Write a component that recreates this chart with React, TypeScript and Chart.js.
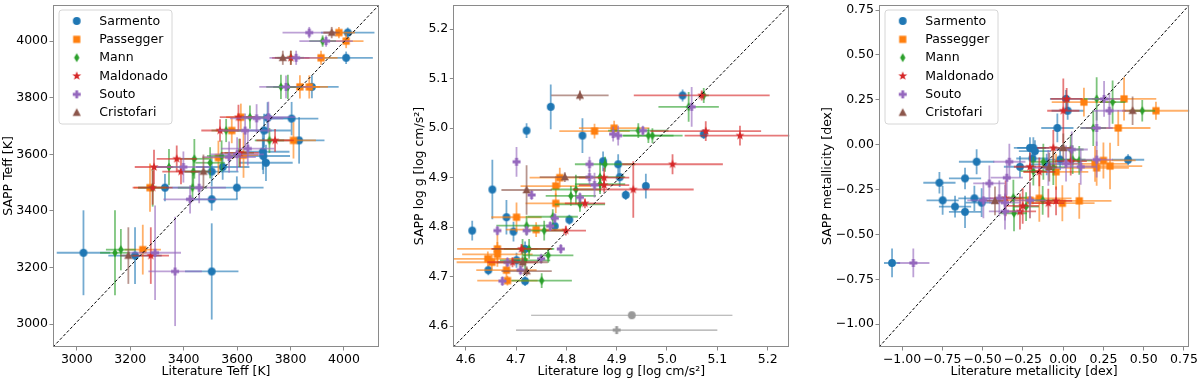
import React, { useEffect, useRef } from 'react';
import { Chart, registerables } from 'chart.js';
Chart.register(...registerables);

type Pt = [number, number, number, number]; // [literature, SAPP, xerr, yerr]

const SERIES_NAMES = ['Sarmento', 'Passegger', 'Mann', 'Maldonado', 'Souto', 'Cristofari'];
const SERIES_COLORS = ['#1f77b4', '#ff7f0e', '#2ca02c', '#d62728', '#9467bd', '#8c564b'];
const SERIES_MARKERS = ['circle', 'square', 'thinDiamond', 'star', 'plus', 'triangle'];

// ---------------- Panel 1: Teff ----------------
const TEFF_TICKS = [3000, 3200, 3400, 3600, 3800, 4000];
const TEFF_SARMENTO: Pt[] = [
  [4014, 4030, 100, 18], [4008, 3941, 100, 22], [3880, 3838, 100, 40], [3804, 3726, 100, 59],
  [3714, 3729, 100, 55], [3832, 3649, 95, 82], [3701, 3684, 100, 59], [3696, 3609, 100, 64],
  [3698, 3594, 100, 64], [3708, 3570, 100, 64], [3599, 3482, 100, 40], [3505, 3539, 100, 53],
  [3546, 3555, 100, 45], [3505, 3441, 97, 40], [3330, 3482, 100, 48], [3025, 3252, 100, 150],
  [3218, 3242, 100, 100], [3505, 3186, 100, 170],
];
const TEFF_PASSEGGER: Pt[] = [
  [3981, 4030, 60, 20], [4008, 4000, 65, 25], [3914, 3941, 62, 25], [3835, 3838, 75, 41],
  [3870, 3838, 70, 41], [3614, 3731, 55, 48], [3811, 3649, 84, 64], [3580, 3684, 60, 45],
  [3530, 3588, 60, 60], [3624, 3597, 55, 80], [3274, 3482, 60, 85], [3247, 3263, 68, 88],
];
const TEFF_MANN: Pt[] = [
  [3920, 4000, 50, 20], [3801, 3941, 50, 25], [3764, 3838, 55, 43], [3790, 3838, 55, 43],
  [3648, 3731, 55, 41], [3559, 3684, 55, 41], [3721, 3649, 55, 44], [3440, 3584, 55, 70],
  [3345, 3555, 55, 64], [3436, 3539, 55, 50], [3499, 3570, 55, 55], [3433, 3482, 55, 47],
  [3284, 3482, 55, 67], [3608, 3605, 55, 50], [3542, 3594, 55, 55], [3143, 3252, 56, 150],
  [3165, 3263, 56, 73],
];
const TEFF_MALDONADO: Pt[] = [
  [3801, 3941, 70, 25], [3605, 3731, 70, 44], [3536, 3684, 70, 40], [3742, 3649, 70, 40],
  [3374, 3584, 75, 47], [3289, 3555, 72, 61], [3390, 3539, 70, 45], [3284, 3482, 75, 60],
  [3277, 3242, 68, 100], [3611, 3605, 70, 50],
];
const TEFF_SOUTO: Pt[] = [
  [3870, 4030, 100, 20], [3933, 4000, 100, 20], [3821, 3941, 100, 25], [3783, 3838, 100, 40],
  [3717, 3731, 100, 55], [3673, 3727, 100, 50], [3630, 3684, 100, 60], [3399, 3555, 100, 55],
  [3458, 3482, 100, 55], [3424, 3441, 100, 50], [3368, 3186, 100, 193], [3293, 3252, 97, 167],
  [3600, 3600, 100, 60], [3570, 3590, 100, 55], [3640, 3620, 100, 60],
];
const TEFF_CRISTOFARI: Pt[] = [
  [3954, 4030, 30, 20], [3771, 3941, 30, 25], [3474, 3539, 30, 60], [3193, 3242, 30, 100],
];

// ---------------- Panel 2: log g ----------------
const LOGG_TICKS = [4.6, 4.7, 4.8, 4.9, 5.0, 5.1, 5.2];
const LOGG_SARMENTO: Pt[] = [
  [4.613, 4.793, 0, 0.02], [4.653, 4.876, 0, 0.06], [4.681, 4.82, 0, 0.035], [4.695, 4.791, 0, 0.02],
  [4.721, 4.995, 0, 0.015], [4.769, 5.043, 0, 0.045], [4.832, 4.985, 0, 0.035], [4.873, 4.933, 0, 0.02],
  [4.903, 4.927, 0, 0.02], [4.906, 4.901, 0, 0.02], [4.918, 4.865, 0, 0.01], [4.958, 4.883, 0, 0.025],
  [5.031, 5.066, 0, 0.012], [5.073, 4.988, 0, 0.01], [4.645, 4.713, 0, 0.01], [4.701, 4.733, 0, 0.015],
  [4.718, 4.691, 0, 0.01], [4.718, 4.756, 0, 0.015], [4.777, 4.802, 0, 0.01], [4.806, 4.815, 0, 0.01],
];
const LOGG_PASSEGGER: Pt[] = [
  [4.644, 4.736, 0.08, 0.015], [4.663, 4.756, 0.08, 0.03], [4.663, 4.745, 0.07, 0.025], [4.652, 4.729, 0.07, 0.015],
  [4.681, 4.713, 0.06, 0.015], [4.683, 4.692, 0.06, 0.01], [4.701, 4.82, 0.05, 0.03], [4.74, 4.795, 0.06, 0.015],
  [4.779, 4.883, 0.07, 0.02], [4.779, 4.848, 0.06, 0.02], [4.787, 4.9, 0.06, 0.02], [4.856, 4.994, 0.07, 0.015],
  [4.895, 5.0, 0.07, 0.015],
];
const LOGG_MANN: Pt[] = [
  [4.721, 4.803, 0.06, 0.02], [4.713, 4.756, 0.06, 0.02], [4.726, 4.756, 0.05, 0.02], [4.718, 4.733, 0.05, 0.02],
  [4.751, 4.692, 0.06, 0.015], [4.764, 4.743, 0.05, 0.015], [4.756, 4.793, 0.04, 0.02], [4.773, 4.821, 0.05, 0.015],
  [4.819, 4.876, 0.05, 0.03], [4.809, 4.863, 0.05, 0.02], [4.827, 4.846, 0.05, 0.015], [4.867, 4.901, 0.05, 0.03],
  [4.867, 4.887, 0.05, 0.02], [4.877, 4.927, 0.06, 0.015], [4.943, 4.995, 0.06, 0.015], [4.963, 4.985, 0.05, 0.015],
  [4.971, 4.985, 0.06, 0.015], [5.043, 5.043, 0.06, 0.03], [5.073, 5.066, 0.01, 0.015],
];
const LOGG_MALDONADO: Pt[] = [
  [4.711, 4.756, 0.06, 0.01], [4.693, 4.729, 0.05, 0.01], [4.799, 4.793, 0.04, 0.01], [4.837, 4.848, 0.04, 0.01],
  [4.875, 4.9, 0.05, 0.02], [4.875, 4.885, 0.05, 0.015], [4.933, 4.876, 0.12, 0.057], [5.011, 4.927, 0.1, 0.02],
  [5.069, 5.066, 0.135, 0.01], [5.077, 4.994, 0.11, 0.02], [5.145, 4.985, 0.11, 0.02],
];
const LOGG_SOUTO: Pt[] = [
  [4.701, 4.932, 0, 0.03], [4.731, 4.865, 0, 0.01], [4.663, 4.793, 0, 0.01], [4.673, 4.691, 0, 0.01],
  [4.683, 4.729, 0, 0.01], [4.709, 4.713, 0, 0.01], [4.721, 4.793, 0, 0.01], [4.75, 4.736, 0, 0.01],
  [4.789, 4.756, 0, 0.01], [4.777, 4.818, 0, 0.01], [4.768, 4.802, 0, 0.01], [4.827, 4.86, 0, 0.01],
  [4.846, 4.927, 0, 0.015], [4.846, 4.901, 0, 0.015], [4.856, 4.885, 0, 0.025], [4.893, 4.988, 0, 0.015],
  [4.903, 4.985, 0, 0.02], [4.952, 4.995, 0, 0.01], [5.049, 5.043, 0, 0.04],
];
const LOGG_CRISTOFARI: Pt[] = [
  [4.827, 5.066, 0.057, 0.01], [4.797, 4.901, 0.05, 0.01], [4.721, 4.875, 0.05, 0.05],
  [4.721, 4.711, 0.05, 0.01], [4.713, 4.729, 0.05, 0.01],
];
const LOGG_TYPICAL_SARMENTO: Pt[] = [[4.93, 4.622, 0.2, 0]];
const LOGG_TYPICAL_SOUTO: Pt[] = [[4.9, 4.592, 0.2, 0]];

// ---------------- Panel 3: metallicity ----------------
const FEH_TICKS = [-1.0, -0.75, -0.5, -0.25, 0.0, 0.25, 0.5, 0.75];
const FEH_SARMENTO: Pt[] = [
  [-1.062, -0.659, 0.05, 0.08], [-0.768, -0.212, 0.1, 0.06], [-0.748, -0.31, 0.1, 0.08], [-0.671, -0.345, 0.1, 0.06],
  [-0.609, -0.188, 0.1, 0.06], [-0.609, -0.374, 0.1, 0.09], [-0.551, -0.299, 0.1, 0.07], [-0.537, -0.095, 0.11, 0.07],
  [-0.506, -0.323, 0.1, 0.08], [-0.268, -0.123, 0.1, 0.06], [-0.206, -0.018, 0.1, 0.06], [-0.191, -0.077, 0.1, 0.06],
  [-0.185, -0.018, 0.1, 0.06], [-0.175, -0.036, 0.1, 0.06], [-0.036, 0.093, 0.1, 0.08], [-0.019, -0.083, 0.1, 0.06],
  [0.018, 0.255, 0.1, 0.05], [0.028, 0.189, 0.1, 0.05], [0.403, -0.084, 0.1, 0.03], [-0.102, -0.11, 0.1, 0.06],
];
const FEH_PASSEGGER: Pt[] = [
  [0.129, 0.237, 0.2, 0.08], [0.342, 0.093, 0.2, 0.1], [0.378, 0.255, 0.2, 0.12], [0.576, 0.189, 0.21, 0.05],
  [0.198, -0.107, 0.2, 0.1], [0.208, -0.129, 0.2, 0.1], [0.25, -0.088, 0.2, 0.1], [0.291, -0.119, 0.2, 0.13],
  [-0.044, -0.151, 0.2, 0.1], [-0.005, -0.326, 0.2, 0.1], [0.1, -0.313, 0.2, 0.1], [-0.148, -0.299, 0.2, 0.13],
  [-0.206, -0.31, 0.2, 0.1],
];
const FEH_MANN: Pt[] = [
  [0.208, 0.255, 0.08, 0.12], [0.307, 0.237, 0.08, 0.12], [0.491, 0.189, 0.08, 0.06], [0.187, 0.093, 0.08, 0.1],
  [-0.123, -0.095, 0.08, 0.1], [-0.185, -0.147, 0.08, 0.08], [-0.061, -0.125, 0.08, 0.1], [0.047, -0.027, 0.08, 0.08],
  [0.059, -0.083, 0.08, 0.08], [0.1, -0.088, 0.08, 0.08], [-0.309, -0.295, 0.08, 0.1], [-0.305, -0.382, 0.08, 0.1],
  [-0.23, -0.345, 0.08, 0.08], [-0.127, -0.31, 0.08, 0.08],
];
const FEH_MALDONADO: Pt[] = [
  [0.001, 0.189, 0.1, 0.18], [-0.061, -0.018, 0.1, 0.1], [-0.206, -0.123, 0.1, 0.08], [-0.148, -0.151, 0.1, 0.08],
  [0.047, -0.092, 0.1, 0.08], [-0.357, -0.299, 0.1, 0.1], [-0.268, -0.372, 0.1, 0.1], [-0.251, -0.341, 0.1, 0.1],
  [-0.092, -0.326, 0.1, 0.08], [-0.044, -0.313, 0.1, 0.08], [0.022, 0.255, 0.1, 0.06],
];
const FEH_SOUTO: Pt[] = [
  [-0.93, -0.659, 0.1, 0.08], [-0.458, -0.216, 0.1, 0.1], [-0.35, -0.184, 0.1, 0.1], [-0.334, -0.095, 0.1, 0.1],
  [-0.396, -0.299, 0.1, 0.1], [-0.361, -0.323, 0.1, 0.1], [-0.361, -0.372, 0.1, 0.1], [-0.495, -0.31, 0.1, 0.1],
  [-0.206, -0.31, 0.1, 0.1], [0.053, -0.027, 0.1, 0.1], [0.208, 0.093, 0.1, 0.1], [0.287, 0.189, 0.1, 0.1],
  [0.254, 0.255, 0.1, 0.1], [0.109, -0.123, 0.1, 0.1], [0.208, -0.083, 0.1, 0.1], [0.018, -0.105, 0.1, 0.1],
  [-0.092, -0.129, 0.1, 0.1],
];
const FEH_CRISTOFARI: Pt[] = [
  [0.431, 0.189, 0.05, 0.08], [0.001, -0.018, 0.05, 0.08], [-0.086, -0.125, 0.05, 0.08], [-0.423, -0.313, 0.05, 0.08],
];

const FONT = "'DejaVu Sans', sans-serif";
const FONT_SIZE = 12.5;
const SPINE = '#8a8a8a';

function hexToRgba(hex: string, a: number) {
  const n = parseInt(hex.slice(1), 16);
  return `rgba(${(n >> 16) & 255},${(n >> 8) & 255},${n & 255},${a})`;
}

function makeMarker(shape: string, color: string): HTMLCanvasElement {
  const c = document.createElement('canvas');
  c.width = 14;
  c.height = 14;
  const g = c.getContext('2d')!;
  g.fillStyle = color;
  g.translate(7, 7);
  g.beginPath();
  if (shape === 'circle') {
    g.arc(0, 0, 3.9, 0, Math.PI * 2);
  } else if (shape === 'square') {
    g.rect(-3.6, -3.6, 7.2, 7.2);
  } else if (shape === 'thinDiamond') {
    g.moveTo(0, -4.5); g.lineTo(2.7, 0); g.lineTo(0, 4.5); g.lineTo(-2.7, 0); g.closePath();
  } else if (shape === 'star') {
    for (let i = 0; i < 10; i++) {
      const r = i % 2 === 0 ? 4.7 : 1.95;
      const a = -Math.PI / 2 + (i * Math.PI) / 5;
      const px = r * Math.cos(a), py = r * Math.sin(a);
      if (i === 0) g.moveTo(px, py); else g.lineTo(px, py);
    }
    g.closePath();
  } else if (shape === 'plus') {
    const a = 4.0, t = 1.4;
    const pts = [[-t, -a], [t, -a], [t, -t], [a, -t], [a, t], [t, t], [t, a], [-t, a], [-t, t], [-a, t], [-a, -t], [-t, -t]];
    pts.forEach(([px, py], i) => (i === 0 ? g.moveTo(px, py) : g.lineTo(px, py)));
    g.closePath();
  } else if (shape === 'triangle') {
    g.moveTo(0, -4.4); g.lineTo(4.1, 3.3); g.lineTo(-4.1, 3.3); g.closePath();
  }
  g.fill();
  return c;
}

const errorBarPlugin = {
  id: 'errorBars',
  beforeDatasetDraw(chart: any, args: any) {
    const ds = chart.data.datasets[args.index];
    if (!ds.errs) return;
    const xs = chart.scales.x, ys = chart.scales.y;
    const ctx = chart.ctx;
    const area = chart.chartArea;
    ctx.save();
    ctx.beginPath();
    ctx.rect(area.left, area.top, area.right - area.left, area.bottom - area.top);
    ctx.clip();
    ctx.strokeStyle = ds.errColor;
    ctx.lineWidth = ds.errWidth;
    ds.data.forEach((p: any, i: number) => {
      const [xe, ye] = ds.errs[i];
      const px = xs.getPixelForValue(p.x), py = ys.getPixelForValue(p.y);
      if (xe > 0) {
        ctx.beginPath();
        ctx.moveTo(xs.getPixelForValue(p.x - xe), py);
        ctx.lineTo(xs.getPixelForValue(p.x + xe), py);
        ctx.stroke();
      }
      if (ye > 0) {
        ctx.beginPath();
        ctx.moveTo(px, ys.getPixelForValue(p.y - ye));
        ctx.lineTo(px, ys.getPixelForValue(p.y + ye));
        ctx.stroke();
      }
    });
    ctx.restore();
  },
};

const framePlugin = {
  id: 'frame',
  afterDatasetsDraw(chart: any) {
    const a = chart.chartArea;
    const ctx = chart.ctx;
    ctx.save();
    ctx.strokeStyle = SPINE;
    ctx.lineWidth = 1;
    ctx.strokeRect(Math.round(a.left) + 0.5, Math.round(a.top) + 0.5, Math.round(a.right - a.left) - 1, Math.round(a.bottom - a.top) - 1);
    ctx.restore();
  },
};

const legendPlugin = {
  id: 'mplLegend',
  afterDraw(chart: any, _args: any, opts: any) {
    if (!opts || !opts.show) return;
    const a = chart.chartArea;
    const ctx = chart.ctx;
    const bx = a.left + 6, by = a.top + 5, bw = 113, bh = 114, r = 3;
    ctx.save();
    ctx.beginPath();
    ctx.moveTo(bx + r, by);
    ctx.arcTo(bx + bw, by, bx + bw, by + bh, r);
    ctx.arcTo(bx + bw, by + bh, bx, by + bh, r);
    ctx.arcTo(bx, by + bh, bx, by, r);
    ctx.arcTo(bx, by, bx + bw, by, r);
    ctx.closePath();
    ctx.fillStyle = 'rgba(255,255,255,0.8)';
    ctx.fill();
    ctx.strokeStyle = '#d6d6d6';
    ctx.lineWidth = 1;
    ctx.stroke();
    ctx.font = `${FONT_SIZE}px ${FONT}`;
    ctx.fillStyle = '#000';
    ctx.textBaseline = 'middle';
    ctx.textAlign = 'left';
    SERIES_NAMES.forEach((name, i) => {
      const cy = a.top + 16 + i * 18.33;
      const img = opts.markers[i];
      ctx.drawImage(img, a.left + 23.7 - img.width / 2, cy - img.height / 2);
      ctx.fillText(name, a.left + 46.3, cy + 0.5);
    });
    ctx.restore();
  },
};

type PanelCfg = {
  series: Pt[][];
  extra?: { pts: Pt[]; marker: string; color: string }[];
  xRange: [number, number];
  yRange: [number, number];
  ticks: number[];
  fmt: (v: number) => string;
  xTitle: string;
  yTitle: string;
  yAxisWidth: number;
  padRight: number;
  yTitlePad: number;
  legend: boolean;
};

const PANELS: PanelCfg[] = [
  {
    series: [TEFF_SARMENTO, TEFF_PASSEGGER, TEFF_MANN, TEFF_MALDONADO, TEFF_SOUTO, TEFF_CRISTOFARI],
    xRange: [2911, 4131], yRange: [2919, 4127.5], ticks: TEFF_TICKS,
    fmt: (v) => String(Math.round(v)),
    xTitle: 'Literature Teff [K]', yTitle: 'SAPP Teff [K]',
    yAxisWidth: 53, padRight: 21, yTitlePad: 1, legend: true,
  },
  {
    series: [LOGG_SARMENTO, LOGG_PASSEGGER, LOGG_MANN, LOGG_MALDONADO, LOGG_SOUTO, LOGG_CRISTOFARI],
    extra: [
      { pts: LOGG_TYPICAL_SARMENTO, marker: 'circle', color: '#999999' },
      { pts: LOGG_TYPICAL_SOUTO, marker: 'plus', color: '#999999' },
    ],
    xRange: [4.5754, 5.243], yRange: [4.5578, 5.2488], ticks: LOGG_TICKS,
    fmt: (v) => v.toFixed(1),
    xTitle: 'Literature log g [log cm/s\u00B2]', yTitle: 'SAPP log g [log cm/s\u00B2]',
    yAxisWidth: 53.3, padRight: 10.7, yTitlePad: 12.5, legend: false,
  },
  {
    series: [FEH_SARMENTO, FEH_PASSEGGER, FEH_MANN, FEH_MALDONADO, FEH_SOUTO, FEH_CRISTOFARI],
    xRange: [-1.143, 0.783], yRange: [-1.127, 0.778], ticks: FEH_TICKS,
    fmt: (v) => v.toFixed(2).replace('-', '\u2212'),
    xTitle: 'Literature metallicity [dex]', yTitle: 'SAPP metallicity [dex]',
    yAxisWidth: 79, padRight: 10.7, yTitlePad: 20, legend: true,
  },
];

function buildConfig(cfg: PanelCfg): any {
  const markers = SERIES_MARKERS.map((m, i) => makeMarker(m, SERIES_COLORS[i]));
  const datasets: any[] = [];
  datasets.push({
    type: 'scatter',
    label: 'diag',
    data: [{ x: cfg.xRange[0], y: cfg.yRange[0] }, { x: cfg.xRange[1], y: cfg.yRange[1] }],
    showLine: true,
    borderColor: '#000',
    borderWidth: 1,
    borderDash: [3, 2],
    pointRadius: 0,
    order: 0,
  });
  cfg.series.forEach((pts, i) => {
    datasets.push({
      type: 'scatter',
      label: SERIES_NAMES[i],
      data: pts.map((p) => ({ x: p[0], y: p[1] })),
      errs: pts.map((p) => [p[2], p[3]]),
      errColor: hexToRgba(SERIES_COLORS[i], 0.62),
      errWidth: 1.8,
      pointStyle: markers[i],
      pointRadius: 4,
      order: 20 - i,
    });
  });
  (cfg.extra || []).forEach((e, j) => {
    datasets.push({
      type: 'scatter',
      label: 'typical' + j,
      data: e.pts.map((p) => ({ x: p[0], y: p[1] })),
      errs: e.pts.map((p) => [p[2], p[3]]),
      errColor: hexToRgba(e.color, 0.85),
      errWidth: 1.2,
      pointStyle: makeMarker(e.marker, e.color),
      pointRadius: 4,
      order: 10 - j,
    });
  });

  const tickFont = { family: FONT, size: FONT_SIZE };
  const axis = (range: [number, number], title: string, isX: boolean) => ({
    type: 'linear',
    position: isX ? 'bottom' : 'left',
    min: range[0],
    max: range[1],
    afterBuildTicks: (scale: any) => {
      scale.ticks = cfg.ticks.map((v) => ({ value: v }));
    },
    afterFit: (scale: any) => {
      if (isX) scale.height = 35;
      else scale.width = cfg.yAxisWidth;
      scale.paddingTop = 0;
      scale.paddingBottom = 0;
      scale.paddingLeft = 0;
      scale.paddingRight = 0;
    },
    ticks: {
      font: tickFont,
      color: '#000',
      padding: 1.5,
      maxRotation: 0,
      autoSkip: false,
      callback: (v: any) => cfg.fmt(Number(v)),
    },
    grid: {
      display: true,
      drawOnChartArea: false,
      drawTicks: true,
      tickLength: 3.5,
      color: SPINE,
      lineWidth: 1,
    },
    border: { display: false },
    title: {
      display: true,
      text: title,
      font: tickFont,
      color: '#000',
      padding: isX ? { top: 0, bottom: 2.5 } : { top: cfg.yTitlePad, bottom: 0 },
    },
  });

  return {
    type: 'scatter',
    data: { datasets },
    options: {
      responsive: false,
      animation: false,
      devicePixelRatio: 1,
      events: [],
      layout: { padding: { left: 0, right: cfg.padRight, top: 3, bottom: 0 } },
      scales: {
        x: axis(cfg.xRange, cfg.xTitle, true),
        y: axis(cfg.yRange, cfg.yTitle, false),
      },
      plugins: {
        legend: { display: false },
        tooltip: { enabled: false },
        mplLegend: { show: cfg.legend, markers },
      },
    },
    plugins: [errorBarPlugin, framePlugin, legendPlugin],
  };
}

function Panel({ cfg, left }: { cfg: PanelCfg; left: number }) {
  const ref = useRef<HTMLCanvasElement>(null);
  useEffect(() => {
    const chart = new Chart(ref.current!, buildConfig(cfg));
    return () => chart.destroy();
  }, [cfg]);
  return (
    <canvas
      ref={ref}
      width={400}
      height={382}
      style={{ position: 'absolute', left, top: 0, width: 400, height: 382 }}
    />
  );
}

export default function App() {
  return (
    <div style={{ position: 'fixed', left: 0, top: 0, width: 1200, height: 382, background: '#fff' }}>
      {PANELS.map((p, i) => (
        <Panel key={i} cfg={p} left={i * 400} />
      ))}
    </div>
  );
}
